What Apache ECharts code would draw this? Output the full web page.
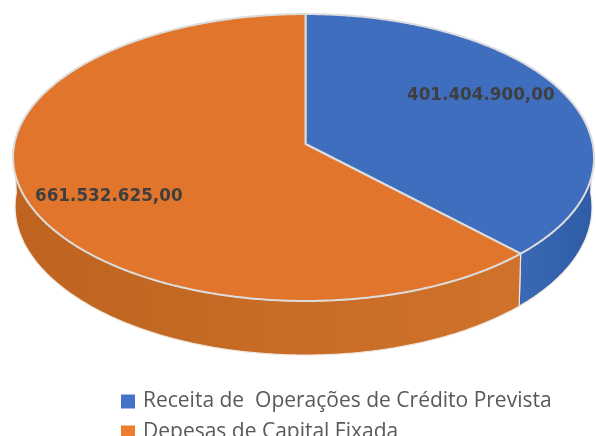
<!DOCTYPE html>
<html>
<head>
<meta charset="utf-8">
<style>
  html, body { margin: 0; padding: 0; background: #fff; overflow: hidden; }
  #chart { width: 596px; height: 436px; }
</style>
<script src="https://cdn.jsdelivr.net/npm/echarts@6/dist/echarts.min.js"></script>
</head>
<body>
<div id="chart"></div>
<script>
var categories = ['Receita de  Operações de Crédito Prevista', 'Depesas de Capital Fixada'];
var seriesValues = [401404900, 661532625];
var topColors = ['#3F6EBE', '#E0752B'];
var sideColors = [['#2F5CA6', '#3A68B4'], ['#BE6420', '#D0722B']];
var labelPos = [[407, 96], [35, 197]];

var total = seriesValues[0] + seriesValues[1];

// tilted disc with a little perspective, the near edge comes out bigger
var cx = 305.5, cy = 144, rx = 289.2, ry = 142.2, persp = 0.094, depth = 49;

function rim(deg, lower) {
  var t = deg * Math.PI / 180;
  var u = Math.sin(t), v = -Math.cos(t);
  var w = 1 - persp * v;
  var scaleX = lower ? 0.993 : 1;
  var x = cx + rx * scaleX * u / w - 2 * u * u * u * u;
  var y = cy + ry * v / w + (lower ? depth / w : 0);
  return [x, y];
}

function arcPoints(from, to, lower) {
  var pts = [];
  var n = Math.max(2, Math.ceil(Math.abs(to - from) * 2));
  for (var i = 0; i <= n; i++) {
    pts.push(rim(from + (to - from) * i / n, lower));
  }
  return pts;
}

function money(val) {
  return String(val).replace(/\B(?=(\d{3})+$)/g, '.') + ',00';
}

function sliceRenderer(idx) {
  return function (params, api) {
    var before = 0;
    for (var i = 0; i < idx; i++) before += seriesValues[i];
    var start = before / total * 360;
    var end = (before + api.value(0)) / total * 360;
    var children = [];

    // only the front half of the wall can be seen
    var sideFrom = Math.max(start, 90), sideTo = Math.min(end, 270);
    if (sideTo > sideFrom) {
      var wall = arcPoints(sideFrom, sideTo, false).concat(arcPoints(sideTo, sideFrom, true));
      children.push({
        type: 'polygon',
        shape: { points: wall },
        style: {
          fill: new echarts.graphic.LinearGradient(idx === 1 ? 0 : 1, 0, idx === 1 ? 1 : 0, 0, [
            { offset: 0, color: sideColors[idx][0] },
            { offset: 1, color: sideColors[idx][1] }
          ]),
          stroke: '#EFE6DC',
          lineWidth: 1.2
        }
      });
    }

    var face = [[cx, cy]].concat(arcPoints(start, end, false));
    children.push({
      type: 'polygon',
      shape: { points: face },
      style: { fill: topColors[idx], stroke: '#DCDCDC', lineWidth: 2, lineJoin: 'round' }
    });

    children.push({
      type: 'text',
      z2: 10,
      style: {
        x: labelPos[idx][0],
        y: labelPos[idx][1],
        text: money(api.value(0)),
        fill: '#3F3F3F',
        font: 'bold 16.8px "DejaVu Sans"',
        verticalAlign: 'middle'
      }
    });
    return { type: 'group', children: children };
  };
}

var chart = echarts.init(document.getElementById('chart'), null, { renderer: 'canvas' });
chart.setOption({
  animation: false,
  legend: {
    orient: 'vertical',
    left: 121,
    top: 391,
    height: 100,
    padding: 0,
    itemWidth: 14,
    itemHeight: 14,
    itemGap: 10,
    icon: 'rect',
    data: categories,
    textStyle: { color: '#595959', fontSize: 21, fontFamily: 'Open Sans', padding: [0, 0, 0, 3] }
  },
  series: [
    {
      type: 'custom',
      name: categories[0],
      coordinateSystem: 'none',
      itemStyle: { color: '#4472C4' },
      renderItem: sliceRenderer(0),
      data: [[seriesValues[0]]]
    },
    {
      type: 'custom',
      name: categories[1],
      coordinateSystem: 'none',
      itemStyle: { color: '#ED7D31' },
      renderItem: sliceRenderer(1),
      data: [[seriesValues[1]]]
    }
  ]
});
</script>
</body>
</html>
